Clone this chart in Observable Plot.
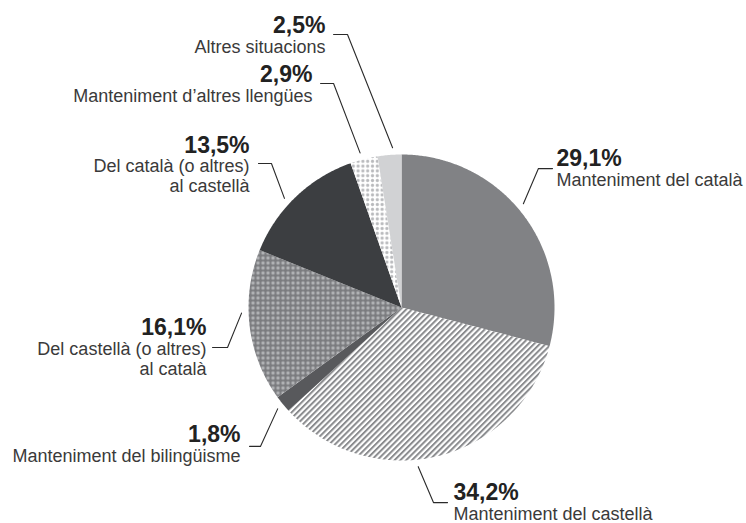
<!DOCTYPE html>
<html><head><meta charset="utf-8">
<script src="https://cdn.jsdelivr.net/npm/d3@7"></script>
<script src="https://cdn.jsdelivr.net/npm/@observablehq/plot@0.6"></script>
<style>
body{margin:0;background:#fff}
#chart{width:746px;height:523px}
</style>
</head><body>
<svg width="0" height="0" style="position:absolute;left:0;top:0">
  <defs>
    <pattern id="stripes" patternUnits="userSpaceOnUse" width="4.1" height="8" patternTransform="rotate(45)">
      <rect x="0" y="0" width="4.1" height="8" fill="#ffffff"></rect>
      <rect x="0" y="0" width="2" height="8" fill="#8a8b8e"></rect>
    </pattern>
    <pattern id="dotsGray" patternUnits="userSpaceOnUse" width="5" height="5">
      <rect x="0" y="0" width="5" height="5" fill="#7b7c7f"></rect>
      <circle cx="2.5" cy="2.5" r="1.65" fill="#b4b5b8"></circle>
    </pattern>
    <pattern id="dotsWhite" patternUnits="userSpaceOnUse" width="4.8" height="4.8">
      <rect x="0" y="0" width="4.8" height="4.8" fill="#ffffff"></rect>
      <circle cx="2.4" cy="2.4" r="1.6" fill="#b9babd"></circle>
    </pattern>
  </defs>
</svg>
<div id="chart"></div>
<script>
// ---- data ----
const categories = [
  "Manteniment del català",
  "Manteniment del castellà",
  "Manteniment del bilingüisme",
  "Del castellà (o altres) al català",
  "Del català (o altres) al castellà",
  "Manteniment d’altres llengües",
  "Altres situacions"
];
const values = [29.1, 34.2, 1.8, 16.1, 13.5, 2.9, 2.5];
const pctLabels = ["29,1%", "34,2%", "1,8%", "16,1%", "13,5%", "2,9%", "2,5%"];
const descLabels = [
  "Manteniment del català",
  "Manteniment del castellà",
  "Manteniment del bilingüisme",
  "Del castellà (o altres)\nal català",
  "Del català (o altres)\nal castellà",
  "Manteniment d’altres llengües",
  "Altres situacions"
];
const fills = ["#818285", "url(#stripes)", "#58595c", "url(#dotsGray)", "#3c3e41", "url(#dotsWhite)", "#d1d2d4"];

// ---- label layout (units of pie radius, centre = 0,0) ----
const leaderAngle = [49.6, 174, 230.7, 268, 313, 345, 356.8];
const leaderR = 1.046;
const elbowX = [0.895, 0.209, -0.922, -1.137, -0.850, -0.444, -0.353];
const elbowY = [0.908, -1.275, -0.908, -0.261, 0.941, 1.464, 1.784];
const endX   = [0.987, 0.301, -0.993, -1.235, -0.935, -0.529, -0.444];
const textX  = [1.013, 0.340, -1.052, -1.275, -0.993, -0.582, -0.497];
const textY  = [0.928, -1.261, -0.882, -0.183, 1.013, 1.471, 1.797];
const side   = ["R", "R", "L", "L", "L", "L", "L"];

// ---- geometry ----
const total = d3.sum(values);
let acc = 0;
const slicePts = [];
values.forEach((v, i) => {
  const a0 = acc / total * 2 * Math.PI;
  acc += v;
  const a1 = acc / total * 2 * Math.PI;
  const pts = [{k: i, x: 0, y: 0}];
  const n = Math.max(2, Math.ceil((a1 - a0) / (Math.PI / 360)));
  for (let j = 0; j <= n; j++) {
    const a = a0 + (a1 - a0) * j / n;
    pts.push({k: i, x: Math.sin(a), y: Math.cos(a)});
  }
  pts.push({k: i, x: 0, y: 0});
  slicePts.push(pts);
});

const labels = categories.map((c, i) => ({
  i, pct: pctLabels[i], desc: descLabels[i], side: side[i], x: textX[i], y: textY[i]
}));
const leaders = categories.flatMap((c, i) => {
  const a = leaderAngle[i] * Math.PI / 180;
  return [
    {k: i, x: leaderR * Math.sin(a), y: leaderR * Math.cos(a)},
    {k: i, x: elbowX[i], y: elbowY[i]},
    {k: i, x: endX[i], y: elbowY[i]}
  ];
});

const R = 153, W = 746, H = 523, CX = 401, CY = 307;
const pctFont = "'Liberation Sans Narrow', 'Liberation Sans', Arial, sans-serif";
const txtFont = "'Liberation Sans', Arial, sans-serif";

const marks = [
  ...slicePts.map((pts, i) => Plot.line(pts, {x: "x", y: "y", fill: fills[i], stroke: "none", curve: "linear"})),
  Plot.line(leaders, {x: "x", y: "y", z: "k", stroke: "#2a2a2a", strokeWidth: 1.1}),
  ...["L", "R"].flatMap(s => [
    Plot.text(labels, {filter: d => d.side === s, x: "x", y: "y", text: "pct",
      textAnchor: s === "L" ? "end" : "start", lineAnchor: "bottom",
      fontFamily: pctFont, fontWeight: "bold", fontSize: 23, fill: "#222"}),
    Plot.text(labels, {filter: d => d.side === s, x: "x", y: "y", text: "desc",
      textAnchor: s === "L" ? "end" : "start", lineAnchor: "top", dy: 5.8, lineHeight: 1.11,
      fontFamily: txtFont, fontSize: 18, fill: "#3a3a3a"})
  ])
];

const chart = Plot.plot({
  width: W, height: H,
  marginTop: 0, marginBottom: 0, marginLeft: 0, marginRight: 0,
  x: {domain: [-CX / R, (W - CX) / R], axis: null},
  y: {domain: [-(H - CY) / R, CY / R], axis: null},
  style: {background: "#fff", overflow: "visible"},
  marks
});
document.getElementById("chart").appendChild(chart);
</script>
</body></html>
